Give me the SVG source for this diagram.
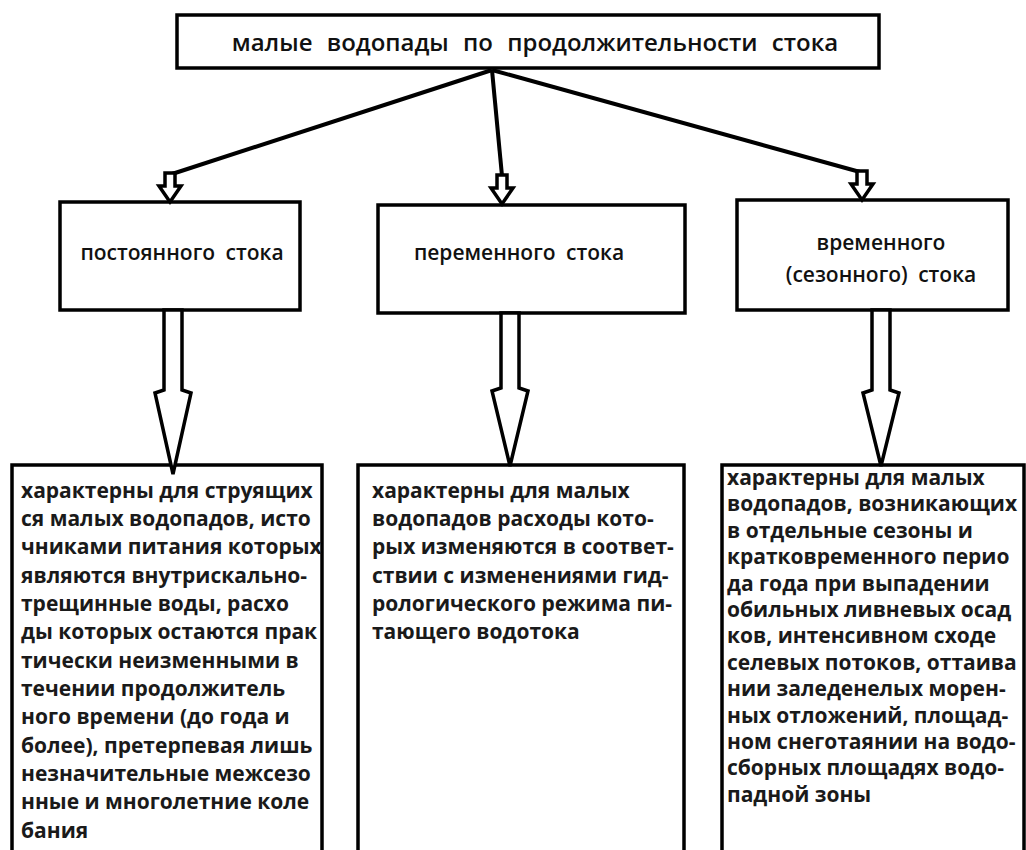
<svg xmlns="http://www.w3.org/2000/svg" width="1026" height="850" viewBox="0 0 1026 850">
<style>
  .box { fill: #ffffff; stroke: #000000; stroke-width: 3.5; }
  .arr { fill: #ffffff; stroke: #000000; stroke-width: 3.5; stroke-linejoin: miter; }
  .ln { stroke: #000000; stroke-width: 4; fill: none; }
  .hdr { font-family: "Open Sans", "Liberation Sans", sans-serif; font-weight: 600; font-size: 24px; fill: #111; }
  .lbl { font-family: "Open Sans", "Liberation Sans", sans-serif; font-weight: 600; font-size: 21px; fill: #111; text-anchor: middle; }
  .body { font-family: "Open Sans", "Liberation Sans", sans-serif; font-weight: 700; font-size: 21px; fill: #1a1a1a; }
</style>
<rect width="1026" height="850" fill="#ffffff"/>

<g id="root">
  <rect class="box" x="177" y="15" width="702" height="53"/>
  <text class="hdr" x="535" y="51" text-anchor="middle" word-spacing="8">малые водопады по продолжительности стока</text>
</g>

<g id="n-post">
  <rect class="box" x="60" y="202" width="240" height="108"/>
  <text class="lbl" x="182" y="260" word-spacing="5">постоянного стока</text>
</g>
<g id="n-perem">
  <rect class="box" x="378" y="205" width="307" height="108"/>
  <text class="lbl" x="519" y="260" word-spacing="5">переменного стока</text>
</g>
<g id="n-vrem">
  <rect class="box" x="737" y="200" width="271" height="110"/>
  <text class="lbl" x="881" y="250">временного</text>
  <text class="lbl" x="881" y="282" word-spacing="5">(сезонного) стока</text>
</g>

<g id="d-post">
  <rect class="box" x="12" y="465" width="310" height="400"/>
  <text class="body">
    <tspan x="21" y="498">характерны для струящих</tspan>
    <tspan x="21" y="526">ся малых водопадов, исто</tspan>
    <tspan x="21" y="554">чниками питания которых</tspan>
    <tspan x="21" y="583">являются внутрискально-</tspan>
    <tspan x="21" y="611">трещинные воды, расхо</tspan>
    <tspan x="21" y="639">ды которых остаются прак</tspan>
    <tspan x="21" y="668">тически неизменными в</tspan>
    <tspan x="21" y="696">течении продолжитель</tspan>
    <tspan x="21" y="724">ного времени (до года и</tspan>
    <tspan x="21" y="753">более), претерпевая лишь</tspan>
    <tspan x="21" y="781">незначительные межсезо</tspan>
    <tspan x="21" y="809">нные и многолетние коле</tspan>
    <tspan x="21" y="838">бания</tspan>
  </text>
</g>
<g id="d-perem">
  <rect class="box" x="358" y="465" width="326" height="400"/>
  <text class="body">
    <tspan x="372" y="498">характерны для малых</tspan>
    <tspan x="372" y="526">водопадов расходы кото-</tspan>
    <tspan x="372" y="554">рых изменяются в соответ-</tspan>
    <tspan x="372" y="583">ствии с изменениями гид-</tspan>
    <tspan x="372" y="611">рологического режима пи-</tspan>
    <tspan x="372" y="639">тающего водотока</tspan>
  </text>
</g>
<g id="d-vrem">
  <rect class="box" x="722" y="465" width="302" height="400"/>
  <text class="body">
    <tspan x="727" y="485">характерны для малых</tspan>
    <tspan x="727" y="511">водопадов, возникающих</tspan>
    <tspan x="727" y="538">в отдельные сезоны и</tspan>
    <tspan x="727" y="564">кратковременного перио</tspan>
    <tspan x="727" y="591">да года при выпадении</tspan>
    <tspan x="727" y="617">обильных ливневых осад</tspan>
    <tspan x="727" y="643">ков, интенсивном сходе</tspan>
    <tspan x="727" y="670">селевых потоков, оттаива</tspan>
    <tspan x="727" y="696">нии заледенелых морен-</tspan>
    <tspan x="727" y="723">ных отложений, площад-</tspan>
    <tspan x="727" y="749">ном снеготаянии на водо-</tspan>
    <tspan x="727" y="775">сборных площадях водо-</tspan>
    <tspan x="727" y="802">падной зоны</tspan>
  </text>
</g>

<g id="connectors">
  <line class="ln" x1="492" y1="70" x2="172" y2="174"/>
  <line class="ln" x1="492" y1="70" x2="502" y2="176"/>
  <line class="ln" x1="492" y1="70" x2="860" y2="172"/>
  <path class="arr" d="M165 173 L175 173 L175 186 L181 186 L170 202 L159 186 L165 186 Z"/>
  <path class="arr" d="M497 175 L507 175 L507 188 L513 188 L502 204 L491 188 L497 188 Z"/>
  <path class="arr" d="M857 171 L867 171 L867 184 L873 184 L862 200 L851 184 L857 184 Z"/>
  <path class="arr" d="M164 310 L182 310 L182 390 L191 393 L173 474 L155 393 L164 390 Z"/>
  <path class="arr" d="M501 313 L519 313 L519 388 L528 391 L510 466 L492 391 L501 388 Z"/>
  <path class="arr" d="M872 310 L890 310 L890 390 L899 393 L881 466 L863 393 L872 390 Z"/>
</g>
</svg>
